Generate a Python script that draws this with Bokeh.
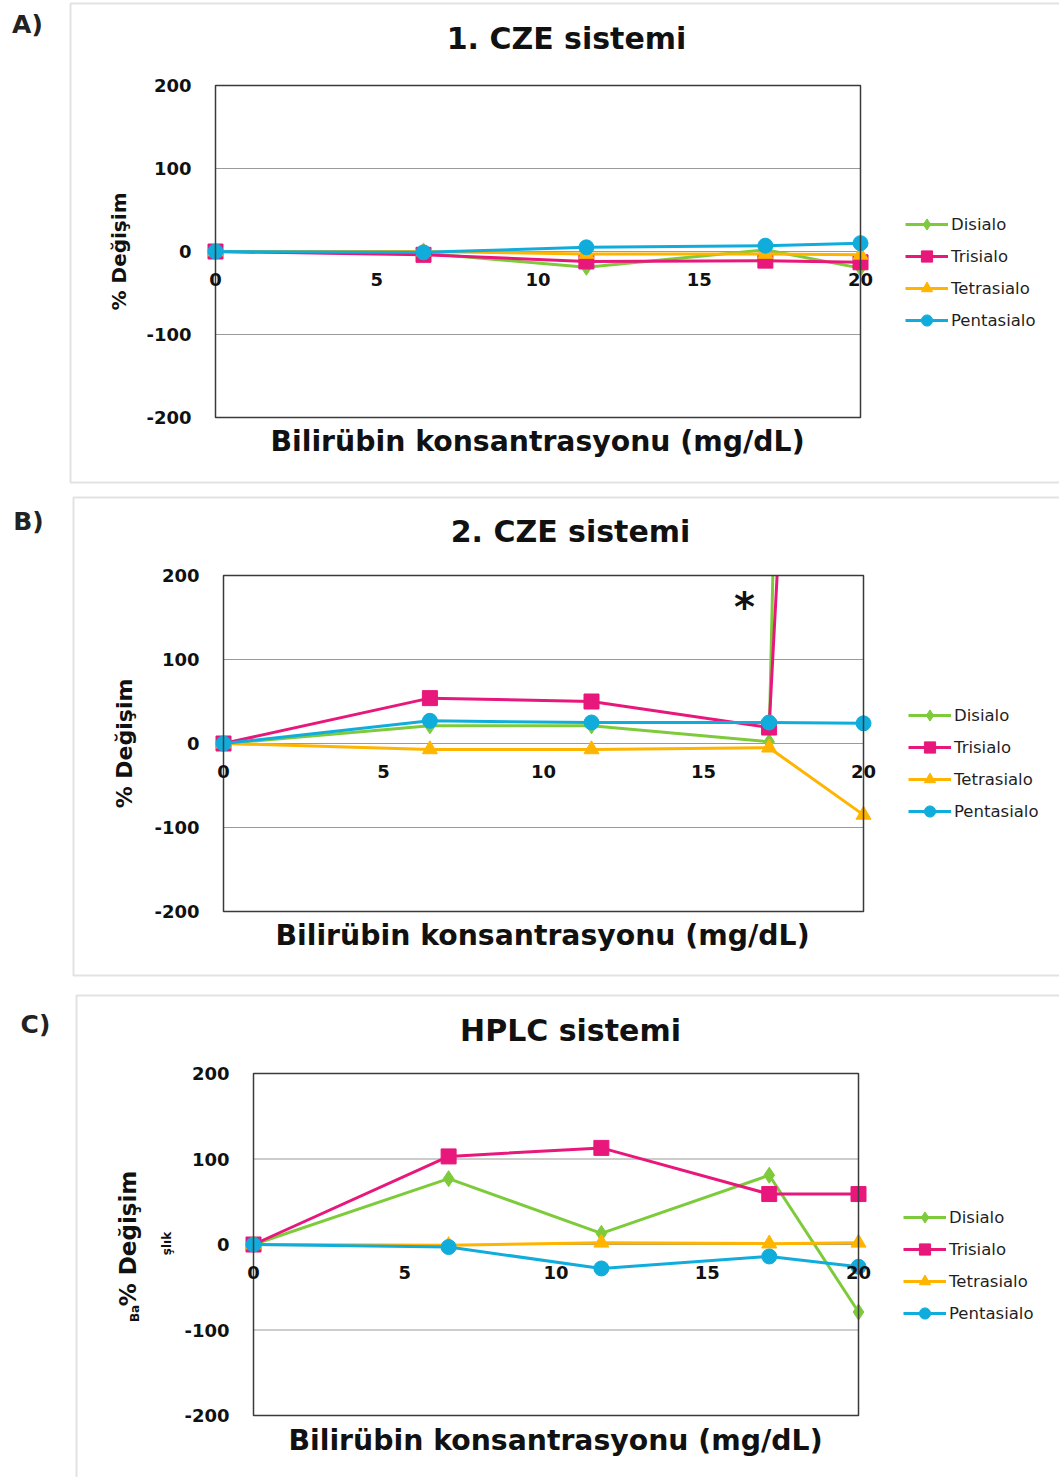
import numpy as np
from bokeh.plotting import figure
from bokeh.models import (Label, BoxAnnotation, Range1d, FixedTicker, LinearAxis,
                          Legend, LegendItem)
from bokeh.embed import file_html
from bokeh.resources import INLINE

# ---------------- data ----------------
conc = [0, 6.45, 11.5, 17.05, 20]          # Bilirübin konsantrasyonu (mg/dL)
series_names = ["Disialo", "Trisialo", "Tetrasialo", "Pentasialo"]

a_disialo = [0, -2, -19, 2, -20]
a_trisialo = [0, -4, -12, -11, -13]
a_tetrasialo = [0, 0, -3, -3, -4]
a_pentasialo = [0, -1, 5, 7, 10]

b_disialo = [0, 21, 21, 2, 5000]      # last value far off scale (line leaves chart)
b_trisialo = [0, 54, 50, 19, 2150]    # last value far off scale (line leaves chart)
b_tetrasialo = [0, -7, -7, -5, -85]
b_pentasialo = [0, 27, 25, 25, 24]

c_disialo = [0, 77, 13, 81, -79]
c_trisialo = [0, 103, 113, 59, 59]
c_tetrasialo = [0, -1, 2, 1, 2]
c_pentasialo = [0, -3, -28, -14, -26]

x_ticks = [0, 5, 10, 15, 20]
y_ticks = [-200, -100, 0, 100, 200]
y_tick_text = {-200: "-200", -100: "-100", 0: "0", 100: "100", 200: "200"}

titles = ["1. CZE sistemi", "2. CZE sistemi", "HPLC sistemi"]
letters = ["A)", "B)", "C)"]
x_title = "Bilirübin konsantrasyonu (mg/dL)"
y_title = "% Değişim"

colors = ["#7DCB3A", "#E8177B", "#FFB400", "#10ADDC"]
markers = ["diamond", "square", "triangle", "circle"]
msizes = [16, 15, 15, 15]

FONT = "DejaVu Sans"
W, H = 1059, 1477

# page-pixel layout of the three panels
panels = [
    dict(key="A", frame=(215, 860, 85, 417), box=(70, 3, 482),
         data=[a_disialo, a_trisialo, a_tetrasialo, a_pentasialo],
         title_pos=(566, 38), xt_pos=(537, 441), letter_pos=(27, 24),
         yl=dict(pos=(118, 251), size="20px", style="bold"),
         legend=(905, 210)),
    dict(key="B", frame=(223, 863, 575, 911), box=(73, 497, 975),
         data=[b_disialo, b_trisialo, b_tetrasialo, b_pentasialo],
         title_pos=(570, 531), xt_pos=(542, 935), letter_pos=(28, 521),
         yl=dict(pos=(124, 743), size="22px", style="bold"),
         legend=(908, 701)),
    dict(key="C", frame=(253, 858, 1073, 1415), box=(76, 995, 1495),
         data=[c_disialo, c_trisialo, c_tetrasialo, c_pentasialo],
         title_pos=(570, 1030), xt_pos=(555, 1440), letter_pos=(35, 1024),
         yl=dict(pos=(127, 1238), size="23px", style="bold"),
         legend=(903, 1203)),
]

# one canvas; default ranges are page pixels (for texts/boxes), each panel has its own data ranges
p = figure(width=W, height=H, x_range=Range1d(0, W), y_range=Range1d(H, 0),
           x_axis_location=None, y_axis_location=None, min_border=0,
           output_backend="svg", toolbar_location=None)
p.title.visible = False
p.grid.visible = False
p.outline_line_color = None
p.background_fill_color = "white"
p.border_fill_color = "white"

X0, X1, Y0, Y1 = x_ticks[0], x_ticks[-1], y_ticks[0], y_ticks[-1]
for cfg in panels:
    fl, fr, ft, fb = cfg["frame"]
    k = cfg["key"]
    sx = (X1 - X0) / (fr - fl)
    sy = (Y1 - Y0) / (fb - ft)
    p.extra_x_ranges["x" + k] = Range1d(X0 - fl * sx, X0 + (W - fl) * sx)
    p.extra_y_ranges["y" + k] = Range1d(Y1 - (H - ft) * sy, Y1 + ft * sy)


def style_axis(ax, standoff):
    ax.axis_line_color = None
    ax.major_tick_line_color = None
    ax.minor_tick_line_color = None
    ax.major_label_standoff = standoff
    ax.major_label_text_font = FONT
    ax.major_label_text_font_style = "bold"
    ax.major_label_text_font_size = "18px"
    ax.major_label_text_color = "#111111"


def draw_grid_and_axes(cfg):
    k = cfg["key"]
    rn = dict(x_range_name="x" + k, y_range_name="y" + k)
    n = len(y_ticks)
    p.segment(x0=[X0] * n, x1=[X1] * n, y0=y_ticks, y1=y_ticks,
              line_color="#9a9a9a", line_width=1.2, **rn)
    xa = LinearAxis(fixed_location=0, ticker=FixedTicker(ticks=x_ticks), **rn)
    style_axis(xa, 15)
    p.add_layout(xa, "below")
    ya = LinearAxis(fixed_location=0, ticker=FixedTicker(ticks=y_ticks),
                    major_label_overrides=y_tick_text, **rn)
    style_axis(ya, 18)
    p.add_layout(ya, "left")


def draw_series(cfg):
    k = cfg["key"]
    rn = dict(x_range_name="x" + k, y_range_name="y" + k)
    items = []
    for name, ys, col, mk, ms in zip(series_names, cfg["data"], colors, markers, msizes):
        lr = p.line(conc, ys, line_color=col, line_width=3, **rn)
        sr = p.scatter(conc, ys, marker=mk, size=ms, fill_color=col, line_color=col, **rn)
        items.append(LegendItem(label=name, renderers=[lr, sr]))
    lx, ltop = cfg["legend"]
    leg_h = 4 * 28 + 3 * 4
    leg = Legend(items=items, location=(lx, H - (ltop + leg_h)),
                 glyph_width=43, glyph_height=28, label_height=28, spacing=4,
                 label_standoff=3, padding=0, margin=0, border_line_color=None,
                 background_fill_alpha=0, label_text_font=FONT,
                 label_text_font_size="16.5px", label_text_color="#1f1f1f")
    p.add_layout(leg)


def draw_outline(cfg):
    k = cfg["key"]
    p.quad(left=X0, right=X1, bottom=Y0, top=Y1, fill_color=None,
           line_color="#3a3a3a", line_width=1.5,
           x_range_name="x" + k, y_range_name="y" + k)


pA, pB, pC = panels
# panel B first: its off-scale lines are then masked (white) above its plot area
draw_grid_and_axes(pB)
draw_series(pB)
for _ in range(5):
    p.quad(left=769, right=900, top=-200, bottom=pB["frame"][2] - 0.8,
           fill_color="white", line_color=None)
draw_outline(pB)
for cfg in (pA, pC):
    draw_grid_and_axes(cfg)
    draw_series(cfg)
    draw_outline(cfg)

# boxes and texts (page pixel coordinates)
for i, cfg in enumerate(panels):
    bl, bt, bb = cfg["box"]
    p.add_layout(BoxAnnotation(left=bl, right=W + 20, top=bt, bottom=bb,
                               fill_color=None, line_color="#a0a0a0", line_width=2))
    tx, ty = cfg["title_pos"]
    p.add_layout(Label(x=tx, y=ty, text=titles[i], text_font=FONT,
                       text_font_style="bold", text_font_size="30px",
                       text_align="center", text_baseline="middle", text_color="#111111"))
    xx, xy = cfg["xt_pos"]
    p.add_layout(Label(x=xx, y=xy, text=x_title, text_font=FONT,
                       text_font_style="bold", text_font_size="28.3px",
                       text_align="center", text_baseline="middle", text_color="#111111"))
    lx0, ly0 = cfg["letter_pos"]
    p.add_layout(Label(x=lx0, y=ly0, text=letters[i], text_font=FONT,
                       text_font_style="bold", text_font_size="25px",
                       text_align="center", text_baseline="middle", text_color="#222222"))
    yl = cfg["yl"]
    yx, yy = yl["pos"]
    p.add_layout(Label(x=yx, y=yy, text=y_title, text_font=FONT,
                       text_font_style=yl["style"], text_font_size=yl["size"],
                       angle=np.pi / 2, text_align="center", text_baseline="middle",
                       text_color="#111111"))

p.add_layout(Label(x=744, y=606, text="*", text_font=FONT, text_font_style="bold",
                   text_font_size="40px", text_align="center",
                   text_baseline="middle", text_color="#111111"))
p.add_layout(Label(x=134, y=1313, text="Ba", text_font=FONT, text_font_style="bold",
                   text_font_size="12px", angle=np.pi / 2, text_align="center",
                   text_baseline="middle", text_color="#111111"))
p.add_layout(Label(x=166, y=1243, text="şlık", text_font=FONT, text_font_style="bold",
                   text_font_size="12px", angle=np.pi / 2, text_align="center",
                   text_baseline="middle", text_color="#111111"))

open("out.html", "w").write(file_html(p, INLINE))
